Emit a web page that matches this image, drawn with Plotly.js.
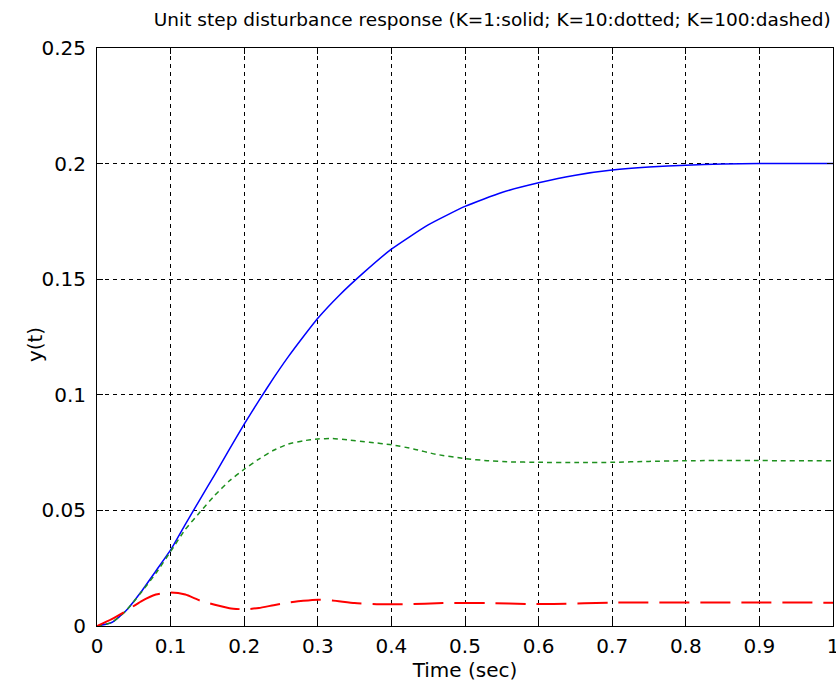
<!DOCTYPE html>
<html>
<head>
<meta charset="utf-8">
<script src="https://cdn.plot.ly/plotly-3.0.1.min.js"></script>
<style>html,body{margin:0;padding:0;background:#fff;}#chart{width:836px;height:690px;}</style>
</head>
<body>
<div id="chart"></div>
<script>
// K = 1 (solid, blue)
const tK1 = [0, 0.02, 0.04, 0.06, 0.08, 0.1, 0.12, 0.14, 0.16, 0.18, 0.2, 0.22, 0.24, 0.26, 0.28, 0.3, 0.33, 0.36, 0.4, 0.45, 0.5, 0.55, 0.6, 0.65, 0.7, 0.75, 0.8, 0.85, 0.9, 1.0];
const yK1 = [0, 0.0015, 0.0068, 0.0148, 0.0238, 0.0329, 0.0440, 0.0548, 0.0655, 0.0765, 0.0873, 0.0975, 0.1073, 0.1165, 0.1250, 0.1331, 0.1433, 0.1522, 0.1630, 0.1735, 0.1815, 0.1875, 0.1917, 0.1950, 0.1972, 0.1985, 0.1993, 0.1998, 0.2, 0.2];
// K = 10 (dotted, green)
const tK10 = [0, 0.02, 0.04, 0.06, 0.08, 0.1, 0.12, 0.14, 0.16, 0.18, 0.2, 0.22, 0.24, 0.26, 0.28, 0.3, 0.32, 0.34, 0.37, 0.4, 0.43, 0.46, 0.5, 0.53, 0.56, 0.6, 0.65, 0.7, 0.75, 0.8, 1.0];
const yK10 = [0, 0.0015, 0.0068, 0.0145, 0.0228, 0.0322, 0.0418, 0.0493, 0.0565, 0.0628, 0.0678, 0.0722, 0.0760, 0.0787, 0.0801, 0.0809, 0.0811, 0.0805, 0.0795, 0.0784, 0.0766, 0.0743, 0.0724, 0.0715, 0.0710, 0.0708, 0.0707, 0.0708, 0.0712, 0.0715, 0.0715];
// K = 100 (dashed, red)
const tK100 = [0, 0.02, 0.04, 0.06, 0.08, 0.1, 0.12, 0.14, 0.16, 0.18, 0.2, 0.22, 0.24, 0.26, 0.28, 0.3, 0.32, 0.35, 0.38, 0.42, 0.47, 0.53, 0.59, 0.62, 0.7, 1.0];
const yK100 = [0, 0.0030, 0.0066, 0.0107, 0.0136, 0.0145, 0.0136, 0.0110, 0.0092, 0.0077, 0.0072, 0.0078, 0.0090, 0.0101, 0.0109, 0.0114, 0.0110, 0.0099, 0.0094, 0.0094, 0.0099, 0.0099, 0.0095, 0.0095, 0.0101, 0.0101];

const xTickVals = [0, 0.1, 0.2, 0.3, 0.4, 0.5, 0.6, 0.7, 0.8, 0.9, 1];
const xTickText = ["0", "0.1", "0.2", "0.3", "0.4", "0.5", "0.6", "0.7", "0.8", "0.9", "1"];
const yTickVals = [0, 0.05, 0.1, 0.15, 0.2, 0.25];
const yTickText = ["0", "0.05", "0.1", "0.15", "0.2", "0.25"];

const titleText = "Unit step disturbance response (K=1:solid; K=10:dotted; K=100:dashed)";
const xTitle = "Time (sec)";
const yTitle = "y(t)";

const font = "DejaVu Sans, Arial, sans-serif";

const traces = [
  {x: tK1, y: yK1, type: "scatter", mode: "lines", line: {color: "#0000ff", width: 1.5, shape: "spline", smoothing: 0.5}, hoverinfo: "skip"},
  {x: tK10, y: yK10, type: "scatter", mode: "lines", line: {color: "#1e901e", width: 1.5, dash: "5px,4px", shape: "spline", smoothing: 0.5}, hoverinfo: "skip"},
  {x: tK100, y: yK100, type: "scatter", mode: "lines", line: {color: "#ff0000", width: 2, dash: "30px,11px", shape: "spline", smoothing: 0.5}, hoverinfo: "skip"}
];

const axisCommon = {
  showline: true, linecolor: "#000", linewidth: 1, mirror: "ticks",
  ticks: "inside", ticklen: 6, tickcolor: "#000", tickwidth: 1,
  showgrid: true, gridcolor: "#000", gridwidth: 1, griddash: "4px,4px",
  zeroline: false, tickfont: {family: font, size: 20, color: "#000"},
  ticklabeloverflow: "allow"
};

const layout = {
  width: 836, height: 690,
  margin: {l: 97, r: 3, t: 48, b: 64},
  paper_bgcolor: "#fff", plot_bgcolor: "#fff",
  showlegend: false,
  title: {text: titleText, font: {family: font, size: 18.5, color: "#000"}, xref: "paper", x: 0.537, xanchor: "center", yref: "container", y: 0.972, yanchor: "middle"},
  xaxis: Object.assign({}, axisCommon, {range: [0, 1], tickvals: xTickVals, ticktext: xTickText, ticklabelstandoff: 2,
    title: {text: xTitle, font: {family: font, size: 20, color: "#000"}, standoff: 2}}),
  yaxis: Object.assign({}, axisCommon, {range: [0, 0.25], tickvals: yTickVals, ticktext: yTickText, ticklabelstandoff: 6}),
  annotations: [
    {text: yTitle, xref: "paper", yref: "paper", x: -0.0842, y: 0.486, xanchor: "center", yanchor: "middle",
     textangle: -90, showarrow: false, font: {family: font, size: 20, color: "#000"}}
  ]
};

Plotly.newPlot("chart", traces, layout, {staticPlot: true, displayModeBar: false});
</script>
</body>
</html>
